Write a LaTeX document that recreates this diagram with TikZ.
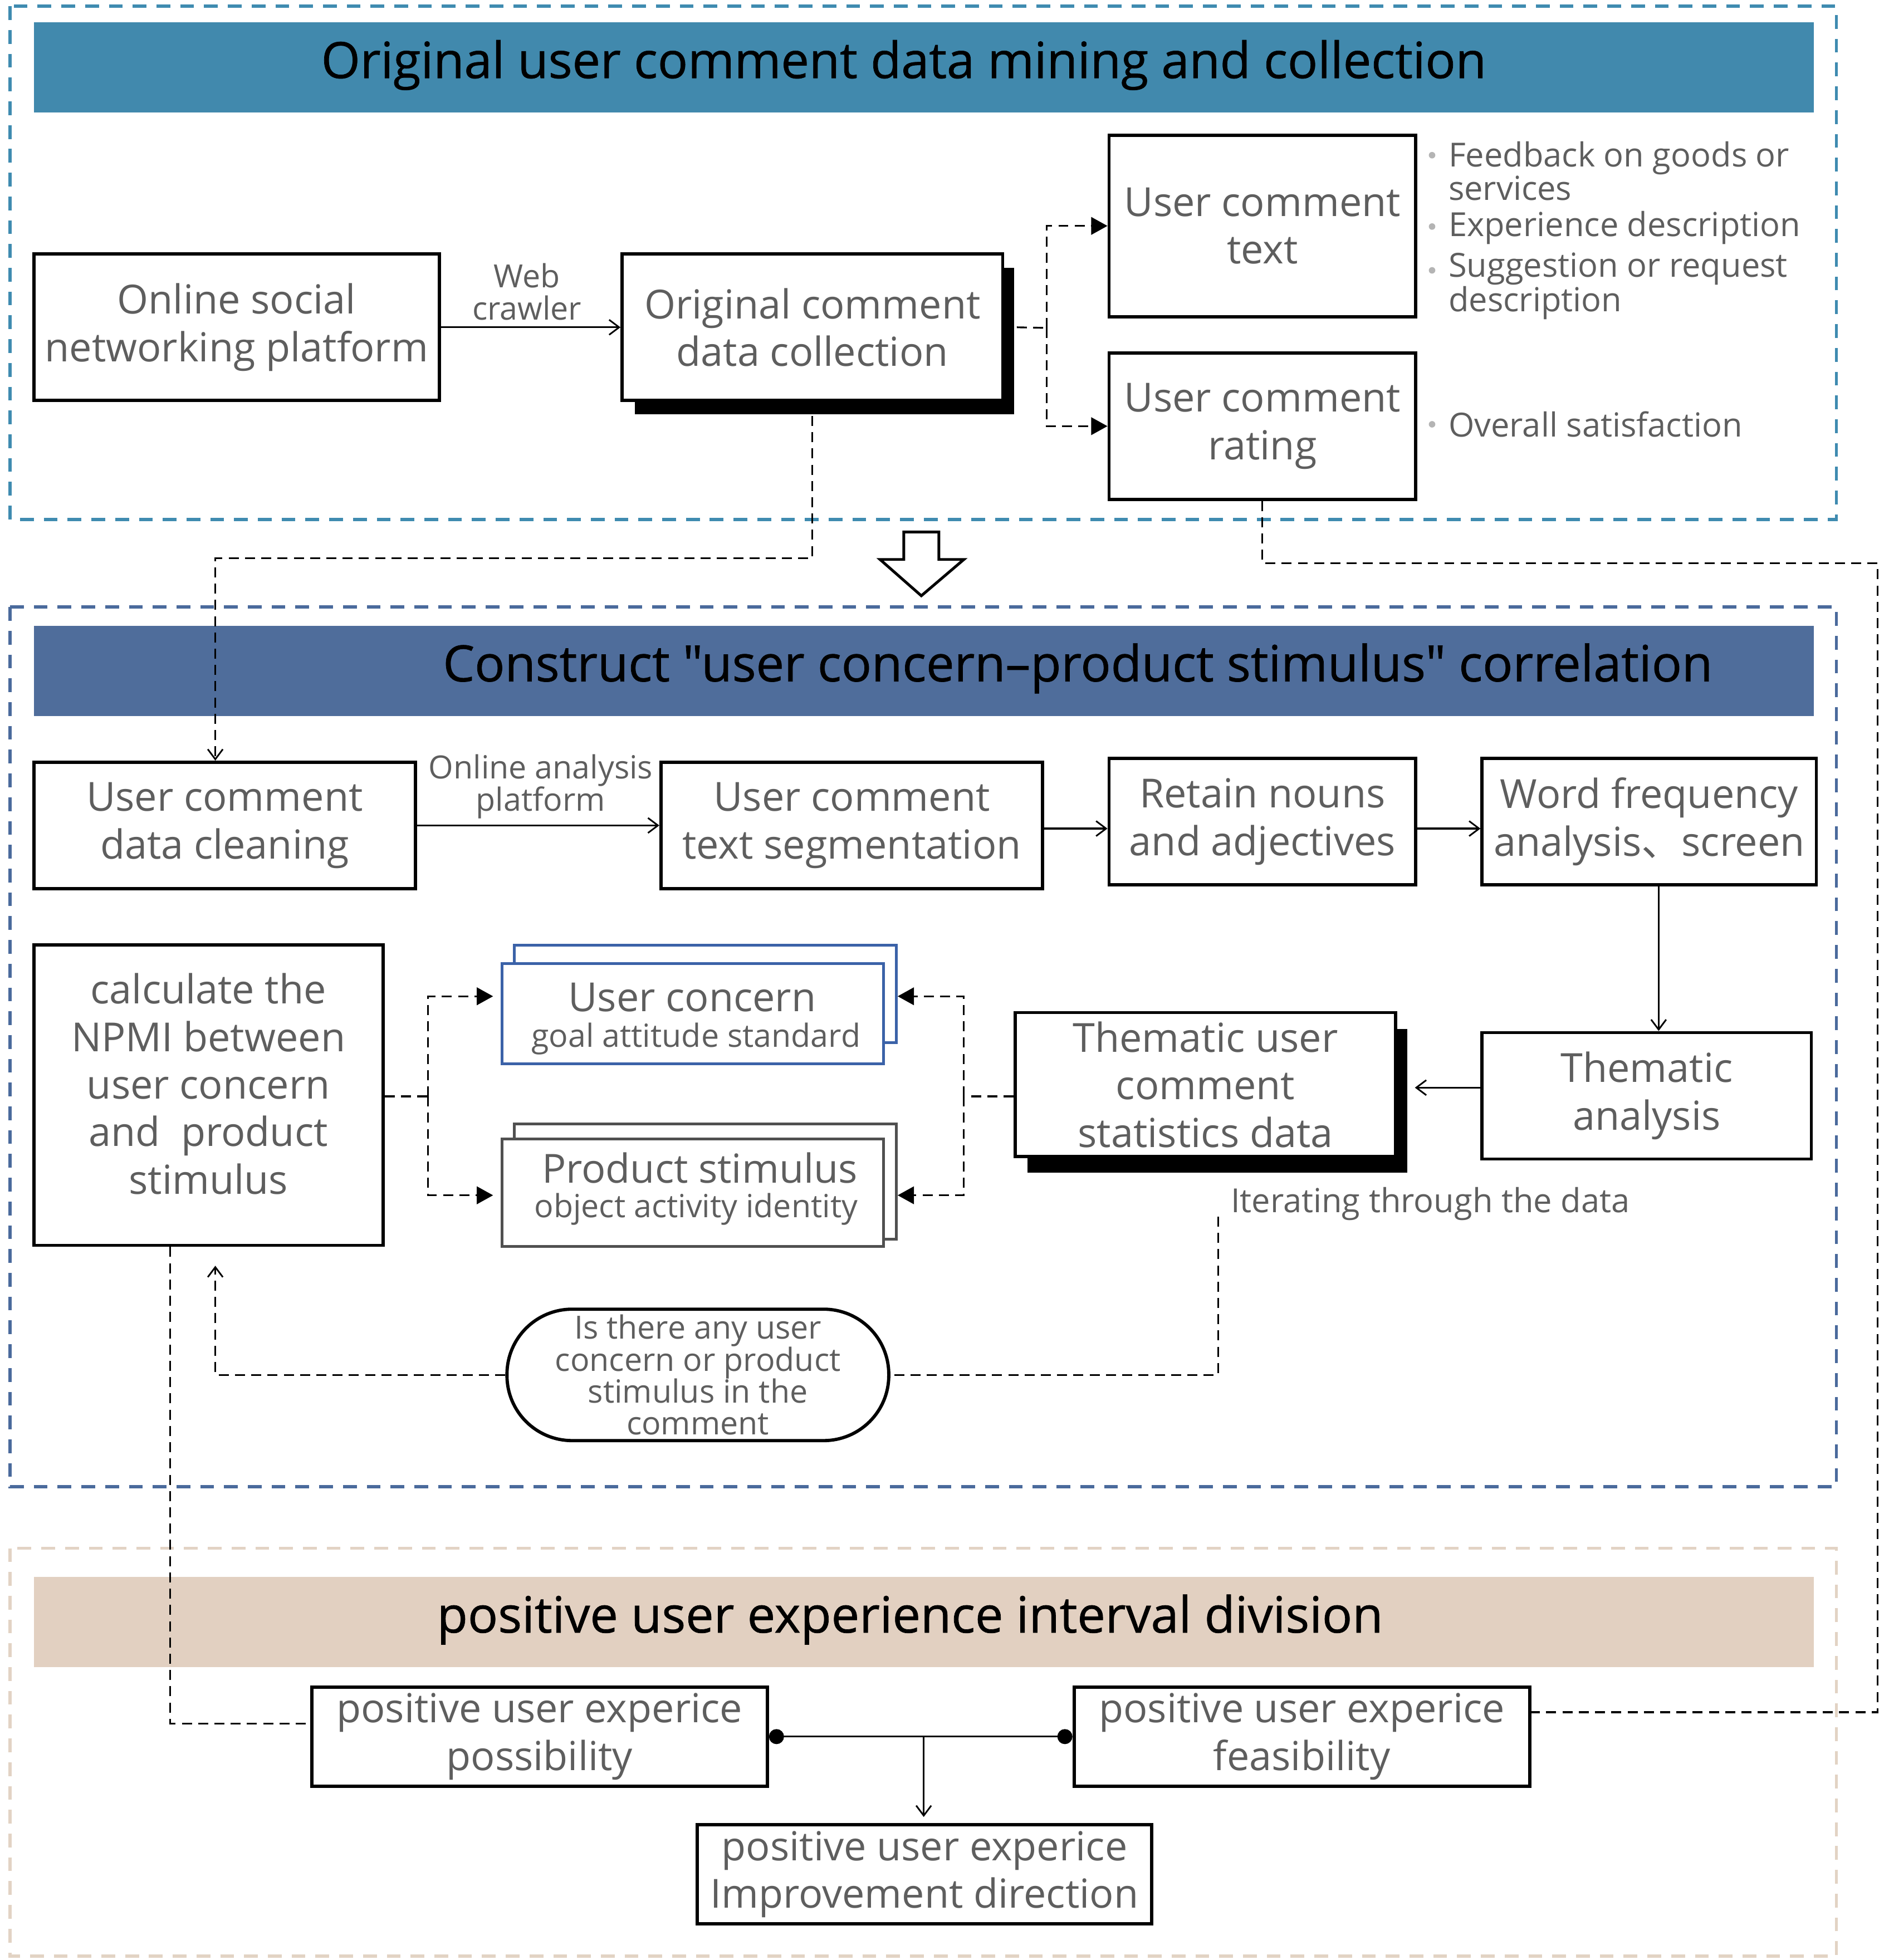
\documentclass[tikz,border=0pt]{standalone}
\usepackage{fontspec}
\setmainfont{Open Sans}
\newfontfamily\cjk{Noto Sans CJK SC}
\newfontfamily\ttlfont[FakeBold=0.8]{Open Sans}
\usetikzlibrary{arrows.meta,calc}
\definecolor{tealc}{HTML}{4189AD}
\definecolor{tealf}{HTML}{3F8BB0}
\definecolor{bluec}{HTML}{4F6D9B}
\definecolor{bluef}{HTML}{4A6A9C}
\definecolor{tanc}{HTML}{E2D0C1}
\definecolor{tanf}{HTML}{E2D3C4}
\definecolor{txt}{HTML}{5E5E5E}
\definecolor{ucblue}{HTML}{3B62A8}
\definecolor{psgray}{HTML}{505050}
\definecolor{bul}{HTML}{B4B4B4}
\newcommand\fsz[2]{\fontsize{#1}{#2}\selectfont}
\begin{document}
\begin{tikzpicture}[x=1pt,y=-1pt,
  frame/.style={line width=2.6pt,dash pattern=on 11pt off 8pt},
  bar/.style={draw=none,inner sep=0pt,minimum width=1422pt,minimum height=72pt},
  ttl/.style={text=black,inner sep=0pt,font=\ttlfont\fsz{40}{40}},
  box/.style={draw=black,line width=2.6pt,fill=white,text=txt,align=center,inner sep=0pt,font=\fsz{32}{38}},
  lbl/.style={text=txt,align=center,inner sep=0pt,font=\fsz{25.5}{26}},
  bull/.style={text=txt,align=left,inner sep=0pt,font=\fsz{26.5}{25},anchor=west},
  txtn/.style={text=txt,inner sep=0pt},
  cdash/.style={line width=1.4pt,dash pattern=on 8pt off 5pt},
  solid1/.style={line width=1.4pt},
  openarr/.style={-{Straight Barb[length=8pt,width=12pt,line width=1.3pt]}},
  filarr/.style={-{Triangle[length=13pt,width=14pt]}}
]
\useasboundingbox (0,0) rectangle (1505,1566);

% ---------- frames ----------
\draw[frame,tealf] (8,5) rectangle (1467,415);
\draw[frame,bluef] (8,485) rectangle (1467,1188);
\draw[frame,tanf] (8,1237) rectangle (1467,1563);

% ---------- title bars ----------
\node[bar,fill=tealc] (bar1) at (738,54) {};
\node[ttl] (ttl1) at (722,52) {Original user comment data mining and collection};
\node[bar,fill=bluec] (bar2) at (738,536) {};
\node[ttl] (ttl2) at (861,534) {Construct \symbol{34}user concern–product stimulus\symbol{34} correlation};
\node[bar,fill=tanc] (bar3) at (738,1296) {};
\node[ttl] (ttl3) at (727,1294) {positive user experience interval division};

% ---------- section 1 ----------
\node[box,minimum width=324pt,minimum height=117pt] (osn) at (189,261.5) {Online social\\networking platform};
\fill (507,214) rectangle (810,331);
\node[box,minimum width=304pt,minimum height=117pt] (occ) at (649,261.5) {Original comment\\data collection};
\node[box,minimum width=245pt,minimum height=145pt] (uct) at (1008.5,180.5) {User comment\\text};
\node[box,minimum width=245pt,minimum height=117pt] (ucr) at (1008.5,340.5) {User comment\\rating};
\node[lbl] (webc) at (421,233) {Web\\crawler};

\fill[bul] (1144,124) circle (2.6);
\fill[bul] (1144,181) circle (2.6);
\fill[bul] (1144,216) circle (2.6);
\fill[bul] (1144,339) circle (2.6);
\node[bull] (b1) at (1157,136.5) {Feedback on goods or\\services};
\node[bull] (b2) at (1157,182) {Experience description};
\node[bull] (b3) at (1157,228.5) {Suggestion or request\\description};
\node[bull] (b4) at (1157,339) {Overall satisfaction};

% big hollow arrow
\draw[line width=2.2pt,fill=white,line join=miter] (722,425) -- (750,425) -- (750,447) -- (770,447) -- (736,476) -- (703,447) -- (722,447) -- cycle;

% ---------- section 2 ----------
\node[box,minimum width=305pt,minimum height=101pt] (clean) at (179.5,659.5) {User comment\\data cleaning};
\node[box,minimum width=305pt,minimum height=101pt] (seg) at (680.5,659.5) {User comment\\text segmentation};
\node[box,minimum width=245pt,minimum height=101pt] (retain) at (1008.5,656.5) {Retain nouns\\and adjectives};
\node[box,minimum width=267pt,minimum height=101pt] (wfa) at (1317.5,656.5) {Word frequency\\analysis{\cjk 、}screen};
\node[box,minimum width=263pt,minimum height=101pt] (them) at (1315.5,875.5) {Thematic\\analysis};
\fill (821,822) rectangle (1124,937);
\node[box,minimum width=304pt,minimum height=115pt] (stats) at (963,866.5) {Thematic user\\comment\\statistics data};
\node[box,minimum width=279pt,minimum height=240pt] (npmi) at (166.5,875) {};
\node[txtn,align=center,font=\fsz{32}{38}] (npmit) at (166.5,866) {calculate the\\NPMI between\\user concern\\and\ \ product\\stimulus};
\node[lbl] (oap) at (432,628.5) {Online analysis\\platform};

\node[box,draw=ucblue,line width=2.2pt,minimum width=305pt,minimum height=78pt] (ucb) at (563.5,794) {};
\node[box,draw=ucblue,line width=2.2pt,minimum width=305pt,minimum height=80pt] (uc) at (553.5,810) {};
\node[txtn,font=\fsz{32}{32}] (uc1) at (553,797) {User concern};
\node[txtn,font=\fsz{25.5}{26}] (uc2) at (556,830) {goal attitude standard};

\node[box,draw=psgray,line width=2.2pt,minimum width=305pt,minimum height=92pt] (psb) at (563.5,944) {};
\node[box,draw=psgray,line width=2.2pt,minimum width=305pt,minimum height=86pt] (ps) at (553.5,953) {};
\node[txtn,font=\fsz{32}{32}] (ps1) at (559,933) {Product stimulus};
\node[txtn,font=\fsz{25.5}{26}] (ps2) at (556,966) {object activity identity};

\node[box,rounded corners=52pt,minimum width=305pt,minimum height=105pt,font=\fsz{25.5}{25.5}] (term) at (557.5,1098.5) {Is there any user\\concern or product\\stimulus in the\\comment};
\node[lbl,anchor=west,font=\fsz{26.5}{27}] (iter) at (983,962) {Iterating through the data};

% ---------- section 3 ----------
\node[box,minimum width=364pt,minimum height=79pt] (poss) at (431,1387.5) {positive user experice\\possibility};
\node[box,minimum width=364pt,minimum height=79pt] (feas) at (1040,1387.5) {positive user experice\\feasibility};
\node[box,minimum width=363pt,minimum height=79pt] (impr) at (738.5,1497.5) {positive user experice\\Improvement direction};

% ---------- connectors ----------
\coordinate (j1) at (836,262);
\coordinate (c1) at (172,446);
\coordinate (r1) at (1500,450);
\coordinate (r2) at (1500,1368);
\coordinate (j2) at (770,876);
\coordinate (j3) at (342,876);
\coordinate (it1) at (973,972);
\coordinate (mid) at ($(poss.east)!0.51!(feas.west)$);

\draw[solid1,openarr] (osn.east) -- (occ.west);
\draw[cdash] ([xshift=10pt]occ.east) -- (j1);
\draw[cdash,filarr] (j1) |- (uct.west);
\draw[cdash,filarr] (j1) |- (ucr.west);
\draw[cdash,openarr] ([yshift=-11pt]occ.south) |- (c1) -- (c1 |- clean.north);
\draw[cdash] (ucr.south) |- (r1) -- (r2) -- (r2 -| feas.east);

\draw[solid1,openarr] (clean.east) -- (seg.west);
\draw[solid1,openarr] (seg.east |- 0,662) -- (retain.west |- 0,662);
\draw[solid1,openarr] (retain.east |- 0,662) -- (wfa.west |- 0,662);
\draw[solid1,openarr] (wfa.south -| 1325,0) -- (them.north -| 1325,0);
\draw[solid1,openarr,shorten >=14pt] (them.west |- 0,869) -- (stats.east |- 0,869);

\draw[cdash] (stats.west |- j2) -- (j2);
\draw[cdash,filarr] (j2) |- (ucb.east |- 0,796);
\draw[cdash,filarr] (j2) |- (psb.east |- 0,955);
\draw[cdash] (npmi.east |- j3) -- (j3);
\draw[cdash,filarr,shorten >=6pt] (j3) |- (uc.west |- 0,796);
\draw[cdash,filarr,shorten >=6pt] (j3) |- (ps.west |- 0,955);

\draw[cdash] (it1) |- (term.east);
\draw[cdash,openarr,shorten >=15pt] (term.west) -| (npmi.south -| 172,0);
\draw[cdash] (npmi.south -| 136,0) |- (poss.west |- 0,1377);

\draw[solid1,{Circle[length=12pt]}-{Circle[length=12pt]}] (poss.east) -- (feas.west);
\draw[solid1,openarr,shorten >=5pt] (mid) -- (mid |- impr.north);
\end{tikzpicture}
\end{document}
